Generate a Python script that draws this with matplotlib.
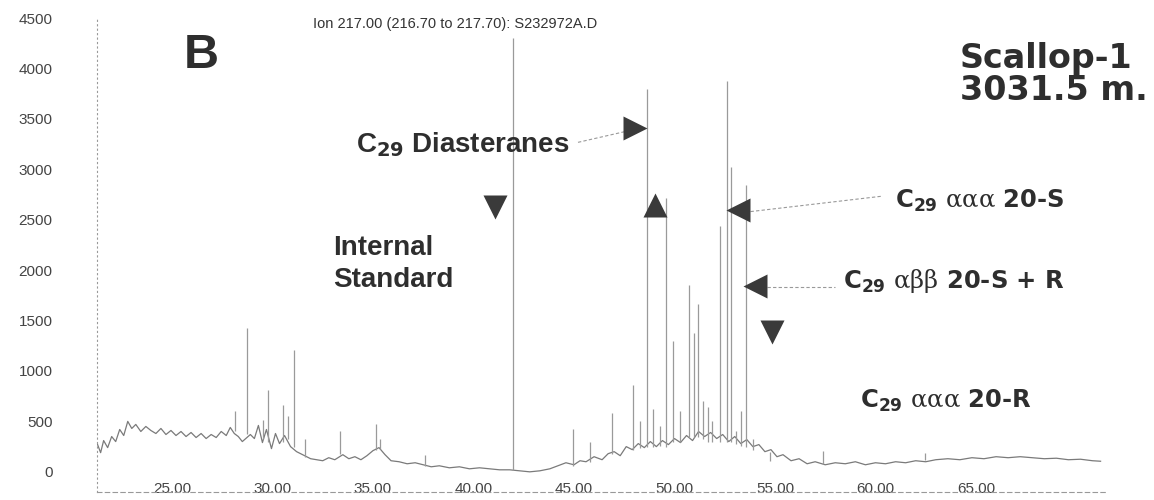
import matplotlib
matplotlib.use("Agg")
import matplotlib.pyplot as plt

plt.rcParams["font.family"] = ["Liberation Sans", "DejaVu Sans"]
plt.rcParams["mathtext.fontset"] = "custom"
plt.rcParams["mathtext.rm"] = "DejaVu Serif"
plt.rcParams["mathtext.bf"] = "DejaVu Sans:bold"

# m/z 217 trace: noisy baseline (retention time in min, abundance)
base_t = [21.3, 21.45, 21.6, 21.8, 22.0, 22.2, 22.4, 22.6, 22.8, 23.0, 23.2, 23.45,
          23.7, 23.95, 24.2, 24.45, 24.7, 24.95, 25.2, 25.45, 25.7, 25.95, 26.2, 26.45,
          26.7, 26.95, 27.2, 27.45, 27.7, 27.9, 28.1, 28.3, 28.5, 28.9, 29.1, 29.3,
          29.5, 29.7, 29.95, 30.15, 30.35, 30.6, 30.9, 31.2, 31.4, 31.6, 31.9, 32.2,
          32.5, 32.8, 33.1, 33.5, 33.8, 34.1, 34.4, 34.7, 35.0, 35.3, 35.6, 35.9,
          36.3, 36.7, 37.1, 37.5, 37.9, 38.3, 38.8, 39.3, 39.8, 40.3, 40.8, 41.3,
          41.8, 42.3, 42.8, 43.3, 43.8, 44.2, 44.6, 45.0, 45.3, 45.6, 46.0, 46.4,
          46.7, 47.0, 47.3, 47.6, 47.9, 48.2, 48.5, 48.8, 49.1, 49.4, 49.7, 50.0,
          50.3, 50.6, 50.9, 51.2, 51.5, 51.8, 52.1, 52.4, 52.7, 53.0, 53.3, 53.6,
          53.9, 54.2, 54.5, 54.8, 55.1, 55.4, 55.8, 56.2, 56.6, 57.0, 57.5, 58.0,
          58.5, 59.0, 59.5, 60.0, 60.5, 61.0, 61.5, 62.0, 62.5, 63.0, 63.6, 64.2,
          64.8, 65.4, 66.0, 66.6, 67.2, 67.8, 68.4, 69.0, 69.6, 70.2, 70.8, 71.2]
base_v = [270, 190, 310, 240, 350, 300, 420, 360, 500, 430, 470, 400,
          450, 410, 380, 430, 370, 410, 360, 400, 350, 390, 340, 380,
          330, 370, 340, 400, 360, 440, 380, 350, 300, 370, 330, 460,
          290, 420, 230, 380, 280, 360, 250, 200, 180, 160, 130, 120,
          110, 140, 120, 170, 130, 150, 120, 160, 210, 240, 170, 110,
          100, 80, 90, 70, 50, 60, 40, 50, 30, 40, 30, 20,
          20, 10, 0, 10, 30, 60, 90, 70, 110, 100, 150, 120,
          180, 200, 160, 250, 220, 280, 240, 300, 250, 310, 270, 330,
          290, 360, 310, 400, 350, 390, 330, 370, 300, 350, 280, 320,
          250, 270, 200, 220, 150, 170, 110, 130, 80, 100, 70, 90,
          80, 100, 70, 90, 80, 100, 90, 110, 100, 120, 130, 120,
          140, 130, 150, 140, 150, 140, 130, 135, 120, 125, 110, 105]

# individual peaks: retention time, apex and foot abundance
peak_t = [28.13, 28.73, 29.53, 29.78, 30.52, 30.77, 31.07, 31.62, 33.36, 35.15,
          35.35, 37.59, 41.97, 44.95, 45.80, 46.89, 47.94, 48.31, 48.63, 48.93,
          49.28, 49.58, 49.93, 50.27, 50.72, 50.97, 51.17, 51.42, 51.67, 51.87,
          52.26, 52.61, 52.81, 53.06, 53.31, 53.56, 53.91, 54.75, 57.39, 62.46]
peak_h = [600, 1430, 515, 810, 660, 550, 1210, 330, 400, 470,
          330, 170, 4300, 420, 300, 580, 860, 500, 3800, 620,
          450, 2720, 1300, 600, 1850, 1380, 1660, 700, 640, 500,
          2440, 3880, 3020, 400, 600, 2840, 330, 200, 210, 190]
peak_foot = [400, 380, 330, 300, 300, 330, 250, 150, 180, 220,
             230, 60, 20, 60, 100, 180, 220, 240, 250, 250,
             260, 250, 300, 300, 350, 350, 350, 330, 300, 300,
             300, 300, 300, 280, 260, 250, 220, 110, 80, 120]

xtick_vals = [25, 30, 35, 40, 45, 50, 55, 60, 65]
ytick_vals = [0, 500, 1000, 1500, 2000, 2500, 3000, 3500, 4000, 4500]

INK = "#2e2e2e"

fig = plt.figure(figsize=(11.54, 5.0), dpi=100)
ax = fig.add_axes([97 / 1154, 8 / 500, 1008 / 1154, 474 / 500])
ax.set_xlim(21.27, 71.42)
ax.set_ylim(-200, 4500)

ax.plot(base_t, base_v, color="#7a7a7a", lw=0.9)
ax.vlines(peak_t, peak_foot, peak_h, colors="#9a9a9a", lw=0.9)

# axes styling: dotted y axis, dashed time axis with labels sitting on it
for s in ("top", "right"):
    ax.spines[s].set_visible(False)
ax.spines["left"].set_linestyle((0, (1, 3)))
ax.spines["left"].set_color("#999999")
ax.spines["bottom"].set_linestyle((0, (4, 3)))
ax.spines["bottom"].set_color("#999999")
ax.set_xticks(xtick_vals)
ax.set_xticklabels([f"{v:.2f}" for v in xtick_vals])
ax.set_yticks(ytick_vals)
ax.set_yticklabels([str(v) for v in ytick_vals])
ax.tick_params(axis="x", length=0, pad=-7, labelsize=11, labelcolor="#444444")
ax.tick_params(axis="y", length=0, pad=32, labelsize=11, labelcolor="#444444")

ax.text(39.08, 4436, "Ion 217.00 (216.70 to 217.70): S232972A.D", ha="center",
        va="center", fontsize=10.5, color="#333333")
ax.text(26.44, 4129, "B", ha="center", va="center", fontsize=35,
        fontweight="bold", color=INK)
ax.text(64.20, 4000, "Scallop-1", family="DejaVu Sans", fontsize=24,
        fontweight="bold", color=INK, va="baseline")
ax.text(64.20, 3683, "3031.5 m.", family="DejaVu Sans", fontsize=24,
        fontweight="bold", color=INK, va="baseline")

ax.text(34.15, 3168, r"C$_{\mathbf{29}}$ Diasteranes", fontsize=20,
        fontweight="bold", color=INK, va="baseline")
ax.text(33.01, 2149, "Internal", fontsize=20, fontweight="bold", color=INK,
        va="baseline")
ax.text(33.01, 1832, "Standard", fontsize=20, fontweight="bold", color=INK,
        va="baseline")

right_labels = [
    (60.97, 2614, r"C$_{\mathbf{29}}$ $\mathrm{\alpha\alpha\alpha}$ 20-S"),
    (58.38, 1822, r"C$_{\mathbf{29}}$ $\mathrm{\alpha\beta\beta}$ 20-S + R"),
    (59.23, 634, r"C$_{\mathbf{29}}$ $\mathrm{\alpha\alpha\alpha}$ 20-R"),
]
for x, y, s in right_labels:
    ax.text(x, y, s, family="DejaVu Sans", fontsize=17.5, fontweight="bold",
            color=INK, va="baseline")

# leader lines
leaders = [((45.20, 47.59), (3267, 3376)),
           ((53.51, 60.32), (2574, 2733)),
           ((54.60, 57.99), (1832, 1832))]
for xs, ys in leaders:
    ax.plot(xs, ys, color="#999999", lw=0.8, ls=(0, (3, 2)))

# pointer triangles
pointers = [(48.03, 3406, ">"), (49.03, 2644, "^"), (53.16, 2594, "<"),
            (54.00, 1842, "<"), (54.85, 1386, "v"), (41.07, 2624, "v")]
for x, y, m in pointers:
    ax.plot(x, y, marker=m, markersize=17, color="#3a3a3a", mec="none")

fig.savefig("out.png", dpi=100)
